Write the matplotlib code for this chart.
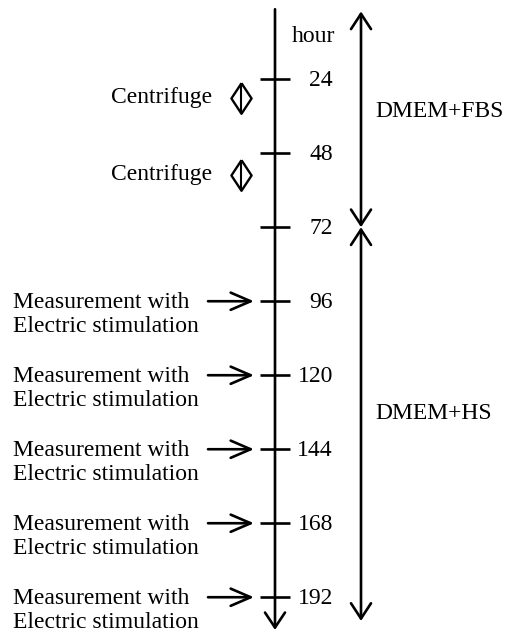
import matplotlib
matplotlib.use("Agg")
import matplotlib.pyplot as plt
from matplotlib.patches import FancyArrowPatch

plt.rcParams["font.family"] = ["Liberation Serif", "DejaVu Serif"]

# timeline data (hours)
tick_hours = [24, 48, 72, 96, 120, 144, 168, 192]
tick_labels = ["24", "48", "72", "96", "120", "144", "168", "192"]
centrifuge_hours = [30, 55]
measurement_hours = [96, 120, 144, 168, 192]
media_names = ["DMEM+FBS", "DMEM+HS"]
media_start = [2, 72]
media_end = [72, 199.7]
media_label_hours = [36.3, 134.3]
axis_start, axis_end = 1.3, 202.6

LW = 1.9
FS = 17

fig = plt.figure(figsize=(5.06, 6.33), dpi=100)
ax = fig.add_axes([0, 0, 1, 1])
ax.set_xlim(0, 506)
ax.set_ylim(203.6, -1.7)
ax.axis("off")


def arrow(start, end, style):
    ax.add_patch(FancyArrowPatch(start, end, arrowstyle=style, lw=LW,
                                 color="black", shrinkA=0, shrinkB=0,
                                 mutation_scale=10))


axis_x = 275
# main time axis with arrow at the bottom
arrow((axis_x, axis_start), (axis_x, axis_end), "->,head_length=1.08,head_width=0.72")

# tick marks and labels
ax.hlines(tick_hours, axis_x - 15, axis_x + 15, colors="black", lw=LW)
for hour, label in zip(tick_hours, tick_labels):
    ax.annotate(label, xy=(333, hour), xytext=(0, -7), textcoords="offset pixels",
                ha="right", va="baseline", fontsize=FS)
ax.annotate("hour", xy=(335, 1), xytext=(0, -42), textcoords="offset pixels",
            ha="right", va="baseline", fontsize=FS,
            xycoords=("data", "axes fraction"))

# centrifuge events
diamond = [(0, 0.5), (0.33, 0), (0, -0.5), (-0.33, 0), (0, 0.5)]
ax.plot([241] * len(centrifuge_hours), centrifuge_hours, linestyle="none",
        marker=diamond, markersize=22, markerfacecolor="white",
        markeredgecolor="black", markeredgewidth=1.7)
ax.plot([241] * len(centrifuge_hours), centrifuge_hours, linestyle="none",
        marker="|", markersize=22, markeredgecolor="black", markeredgewidth=1.5)
for hour in centrifuge_hours:
    ax.annotate("Centrifuge", xy=(212, hour), xytext=(0, -5),
                textcoords="offset pixels", ha="right", va="baseline", fontsize=FS)

# measurements with electric stimulation
for hour in measurement_hours:
    arrow((208, hour), (254, hour), "->,head_length=1.44,head_width=0.62")
    ax.annotate("Measurement with", xy=(13, hour), xytext=(0, -7),
                textcoords="offset pixels", ha="left", va="baseline", fontsize=FS)
    ax.annotate("Electric stimulation", xy=(13, hour), xytext=(0, -31),
                textcoords="offset pixels", ha="left", va="baseline", fontsize=FS)

# culture media periods
media_x = 361
for name, start, end, label_hour in zip(media_names, media_start, media_end,
                                        media_label_hours):
    arrow((media_x, start), (media_x, end), "<->,head_length=1.1,head_width=0.72")
    ax.text(375, label_hour, name, ha="left", va="baseline", fontsize=FS)

fig.savefig("out.png", dpi=100)
plt.close(fig)
